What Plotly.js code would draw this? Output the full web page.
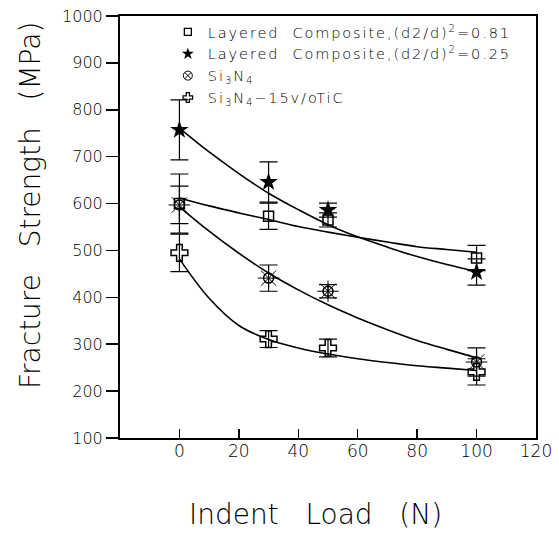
<!DOCTYPE html>
<html>
<head>
<meta charset="utf-8">
<script src="https://cdn.plot.ly/plotly-3.0.1.min.js"></script>
<style>
  html, body { margin: 0; padding: 0; background: #fff; }
  #chart { width: 559px; height: 534px; }
  .legendtext { letter-spacing: 1.9px; }
</style>
</head>
<body>
<div id="chart"></div>
<script>
// ---- measured data (Indent Load in N, Fracture Strength in MPa) ----
const loads = [0, 30, 50, 100];

const strengthLC081 = [600, 573, 565, 484];
const errorLC081    = [63, 28, 15, 27];

const strengthLC025 = [757, 646, 586, 454];
const errorLC025    = [64, 43, 15, 28];

const strengthSi3N4 = [597, 441, 413, 262];
const errorSi3N4    = [40, 28, 14, 30];

const strengthTiC   = [495, 311, 292, 241];
const errorTiC      = [40, 18, 19, 28];

// fitted curves
const fitLoads   = [0, 10, 20, 30, 40, 50, 60, 70, 80, 90, 100];
const fitLC081   = [612, 595, 580, 566, 551, 539, 528, 518, 508, 502, 496];
const fitLC025   = [761, 710, 664, 622, 587, 555, 529, 507, 487, 470, 455];
const fitSi3N4   = [593, 541, 494, 452, 416, 384, 356, 331, 308, 289, 271];
const fitTiC     = [482, 398, 340, 310, 292, 279, 269, 261, 254, 249, 244];

const seriesNames = [
  'Layered\u00A0\u00A0Composite,(d2/d)<sup>2</sup>=0.81',
  'Layered\u00A0\u00A0Composite,(d2/d)<sup>2</sup>=0.25',
  'Si<sub>3</sub>N<sub>4</sub>',
  'Si<sub>3</sub>N<sub>4</sub>\u221215v/oTiC'
];

const xTicks = [0, 20, 40, 60, 80, 100, 120];
const yTicks = [100, 200, 300, 400, 500, 600, 700, 800, 900, 1000];
const xTitle = 'Indent\u00A0\u00A0\u00A0Load\u00A0\u00A0\u00A0(N)';
const yTitle = 'Fracture\u00A0\u00A0\u00A0Strength\u00A0\u00A0\u00A0(MPa)';

const FONT = "'DejaVu Sans ExtraLight', 'DejaVu Sans', sans-serif";
const W = 200;

function errBar(arr) {
  return { type: 'data', array: arr, visible: true, color: '#000', thickness: 1.2, width: 9 };
}
function fitLine(y) {
  return { x: fitLoads, y: y, mode: 'lines', type: 'scatter', showlegend: false, hoverinfo: 'skip',
           line: { color: '#000', width: 1.6, shape: 'spline', smoothing: 1 } };
}
// small legend-only entries (no data points), so the legend symbols stay small
function legendEntry(name, marker) {
  return { x: [null], y: [null], name: name, mode: 'markers', type: 'scatter', hoverinfo: 'skip', marker: marker };
}

const traces = [
  fitLine(fitLC081), fitLine(fitLC025), fitLine(fitSi3N4), fitLine(fitTiC),
  { x: loads, y: strengthLC081, mode: 'markers', type: 'scatter', showlegend: false,
    error_y: errBar(errorLC081),
    marker: { symbol: 'square-open', size: 10, color: '#000', line: { width: 1.5, color: '#000' } } },
  { x: loads, y: strengthLC025, mode: 'markers', type: 'scatter', showlegend: false,
    error_y: errBar(errorLC025),
    marker: { symbol: 'star', size: 14, color: '#000', line: { width: 0 } } },
  { x: loads, y: strengthSi3N4, mode: 'markers', type: 'scatter', showlegend: false,
    error_y: errBar(errorSi3N4),
    marker: { symbol: 'circle-open', size: 10, color: '#000', line: { width: 1.5, color: '#000' } } },
  { x: loads, y: strengthTiC, mode: 'markers', type: 'scatter', showlegend: false,
    error_y: errBar(errorTiC),
    marker: { symbol: 'cross-open', size: 14, color: '#000', line: { width: 1.5, color: '#000' } } },
  // rays of the sun-shaped Si3N4 marker
  { x: loads, y: strengthSi3N4, mode: 'markers', type: 'scatter', showlegend: false, hoverinfo: 'skip',
    marker: { symbol: 'asterisk-open', size: 18, color: '#000', line: { width: 1, color: '#000' } } },
  legendEntry(seriesNames[0], { symbol: 'square-open', size: 7, color: '#000', line: { width: 1.3, color: '#000' } }),
  legendEntry(seriesNames[1], { symbol: 'star', size: 9, color: '#000', line: { width: 0 } }),
  legendEntry(seriesNames[2], { symbol: 'circle-x-open', size: 9, color: '#000', line: { width: 1, color: '#000' } }),
  legendEntry(seriesNames[3], { symbol: 'cross-open', size: 8, color: '#000', line: { width: 1.2, color: '#000' } })
];

const layout = {
  width: 559, height: 534,
  margin: { l: 120, r: 23, t: 16, b: 96, pad: 0 },
  paper_bgcolor: '#fff', plot_bgcolor: '#fff',
  font: { family: FONT, color: '#000', size: 16, weight: W },
  showlegend: true,
  legend: {
    x: 0.115, y: 1, xanchor: 'left', yanchor: 'top',
    bgcolor: 'rgba(0,0,0,0)', borderwidth: 0,
    font: { family: FONT, size: 14.5, color: '#000', weight: W },
    tracegroupgap: 0, itemwidth: 30, itemsizing: 'trace'
  },
  xaxis: {
    range: [-20, 120], tickvals: xTicks, ticktext: xTicks.map(String),
    ticks: 'inside', ticklen: 9, tickwidth: 1.5, tickcolor: '#000',
    showline: true, linewidth: 2, linecolor: '#000', mirror: true,
    showgrid: false, zeroline: false, ticklabelstandoff: -3,
    tickfont: { family: FONT, size: 17, color: '#000', weight: W }
  },
  yaxis: {
    range: [100, 1000], tickvals: yTicks, ticktext: yTicks.map(String),
    ticks: 'outside', ticklen: 12, tickwidth: 1.5, tickcolor: '#000',
    showline: true, linewidth: 2, linecolor: '#000', mirror: true,
    showgrid: false, zeroline: false,
    tickfont: { family: FONT, size: 16, color: '#000', weight: W }
  },
  annotations: [
    { text: xTitle, xref: 'paper', yref: 'paper', x: (315 - 120) / 416, y: (438 - 514) / 422,
      xanchor: 'center', yanchor: 'middle', showarrow: false,
      font: { family: FONT, size: 28, color: '#000', weight: W } },
    { text: yTitle, xref: 'paper', yref: 'paper', x: (30 - 120) / 416, y: (438 - 206) / 422,
      xanchor: 'center', yanchor: 'middle', showarrow: false, textangle: -90,
      font: { family: FONT, size: 28, color: '#000', weight: W } }
  ]
};

Plotly.newPlot('chart', traces, layout, { displayModeBar: false, staticPlot: true });
</script>
</body>
</html>
